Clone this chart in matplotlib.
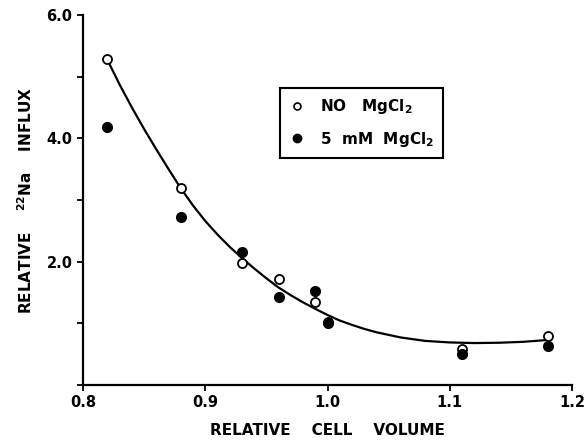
import matplotlib
matplotlib.use("Agg")
import matplotlib.pyplot as plt
from matplotlib.lines import Line2D

# Data
vol_open = [0.82, 0.88, 0.93, 0.96, 0.99, 1.00, 1.11, 1.18]
flux_open = [5.29, 3.20, 1.98, 1.72, 1.35, 1.02, 0.58, 0.80]

vol_filled = [0.82, 0.88, 0.93, 0.96, 0.99, 1.00, 1.11, 1.18]
flux_filled = [4.19, 2.73, 2.16, 1.43, 1.53, 1.00, 0.50, 0.63]

# Hand-drawn fit curve
curve_x = [0.82, 0.83, 0.84, 0.85, 0.86, 0.87, 0.88, 0.89, 0.90, 0.91,
           0.92, 0.93, 0.94, 0.95, 0.96, 0.97, 0.98, 0.99, 1.00, 1.01,
           1.02, 1.03, 1.04, 1.06, 1.08, 1.10, 1.12, 1.14, 1.16, 1.18]
curve_y = [5.27, 4.87, 4.50, 4.15, 3.82, 3.50, 3.19, 2.91, 2.66, 2.44,
           2.24, 2.06, 1.89, 1.73, 1.58, 1.455, 1.34, 1.235, 1.135, 1.045,
           0.975, 0.91, 0.855, 0.77, 0.715, 0.69, 0.68, 0.685, 0.70, 0.73]

xticks = [0.8, 0.9, 1.0, 1.1, 1.2]
xticklabels = ["0.8", "0.9", "1.0", "1.1", "1.2"]
yticks = [0, 1, 2, 3, 4, 5, 6]
yticklabels = ["", "", "2.0", "", "4.0", "", "6.0"]

plt.rcParams['font.family'] = ['DejaVu Sans']

fig = plt.figure(figsize=(5.87, 4.44), dpi=100)
ax = fig.add_axes([0.1414, 0.1329, 0.8331, 0.8333])

ax.plot(curve_x, curve_y, color='black', lw=1.6, zorder=2)
ax.plot(vol_open, flux_open, 'o', mfc='white', mec='black', mew=1.3, ms=6.5,
        linestyle='none', zorder=3)
ax.plot(vol_filled, flux_filled, 'o', mfc='black', mec='black', ms=7,
        linestyle='none', zorder=4)

ax.set_xlim(0.8, 1.2)
ax.set_ylim(0, 6)
ax.set_xticks(xticks)
ax.set_xticklabels(xticklabels, fontsize=10.5, fontweight='bold')
ax.set_yticks(yticks)
ax.set_yticklabels(yticklabels, fontsize=10.5, fontweight='bold')
ax.tick_params(direction='out', length=4, width=1.3)

for s in ['top', 'right']:
    ax.spines[s].set_visible(False)
for s in ['left', 'bottom']:
    ax.spines[s].set_linewidth(1.6)

ax.set_xlabel("RELATIVE    CELL    VOLUME", fontsize=11, fontweight='bold', labelpad=9)
ax.set_ylabel("RELATIVE    $^{\\mathbf{22}}$Na    INFLUX", fontsize=11, fontweight='bold', labelpad=8)

handles = [
    Line2D([], [], marker='o', mfc='white', mec='black', mew=1.2, ms=5, linestyle='none'),
    Line2D([], [], marker='o', mfc='black', mec='black', ms=6, linestyle='none'),
]
labels = ["NO   MgCl$_\\mathbf{2}$", "5  mM  MgCl$_\\mathbf{2}$"]
leg = ax.legend(handles, labels, loc='upper left', bbox_to_anchor=(0.403, 0.803),
                frameon=True, fancybox=False, edgecolor='black', framealpha=1,
                prop={'weight': 'bold', 'size': 11}, handlelength=1.0,
                handletextpad=1.0, borderpad=0.6, labelspacing=0.9,
                borderaxespad=0)
leg.get_frame().set_linewidth(1.5)

fig.savefig("out.png", dpi=100)
